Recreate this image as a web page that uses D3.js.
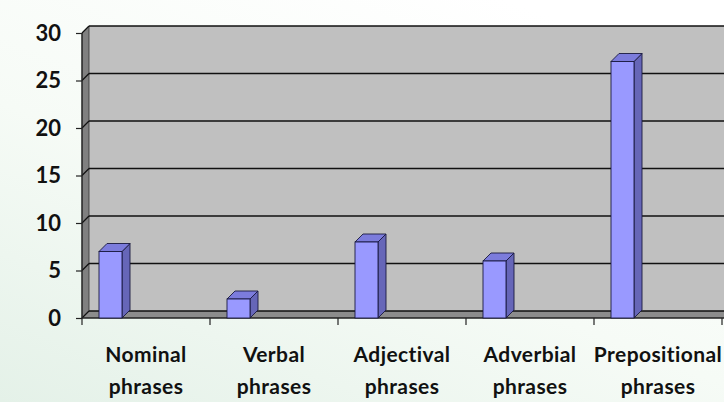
<!DOCTYPE html>
<html>
<head>
<meta charset="utf-8">
<script src="https://cdn.jsdelivr.net/npm/d3@7"></script>
<style>
  html, body { margin: 0; padding: 0; overflow: hidden; }
  svg { display: block; }
</style>
</head>
<body>
<div id="chart"></div>
<script>
const categories = ["Nominal phrases", "Verbal phrases", "Adjectival phrases", "Adverbial phrases", "Prepositional phrases"]
const values = [7, 2, 8, 6, 27]
const yTicks = [0, 5, 10, 15, 20, 25, 30]

const W = 724, H = 402
const DX = 7, DY = 7          // depth of the walls
const BDX = 8, BDY = 8        // depth of the bars
const FONT = "Lato, 'Open Sans', sans-serif"

const svg = d3.select("#chart").append("svg")
    .attr("width", W)
    .attr("height", H)

// soft background
const defs = svg.append("defs")
const grad = defs.append("linearGradient")
    .attr("id", "bg").attr("x1", 0).attr("y1", 1).attr("x2", 0.7).attr("y2", 0)
grad.append("stop").attr("offset", 0).attr("stop-color", "#e4f1e8")
grad.append("stop").attr("offset", 0.5).attr("stop-color", "#f6fbf6")
grad.append("stop").attr("offset", 1).attr("stop-color", "#ffffff")
svg.append("rect").attr("width", W).attr("height", H).attr("fill", "url(#bg)")

const x = d3.scaleBand().domain(categories).range([82, 722])
const y = d3.scaleLinear().domain([0, 30]).range([318, 33])

const x0 = x.range()[0], x1 = x.range()[1]
const yTop = y(30), yBot = y(0)

// back wall
svg.append("rect")
    .attr("x", x0 + DX).attr("y", yTop - DY)
    .attr("width", x1 + 20 - x0).attr("height", yBot - yTop)
    .attr("fill", "#c0c0c0")

// left wall
svg.append("polygon")
    .attr("points", [[x0, yTop], [x0 + DX, yTop - DY], [x0 + DX, yBot - DY], [x0, yBot]].join(" "))
    .attr("fill", "#808080")
    .attr("stroke", "#333").attr("stroke-width", 0.8)

// floor
svg.append("polygon")
    .attr("points", [[x0, yBot], [x0 + DX, yBot - DY], [x1 + 20, yBot - DY], [x1 + 20, yBot]].join(" "))
    .attr("fill", "#8c8c8c")

// gridlines on back wall and left wall
const grid = svg.append("g")
yTicks.forEach(t => {
    grid.append("line")
        .attr("x1", x0 + DX).attr("x2", x1 + 20)
        .attr("y1", y(t) - DY).attr("y2", y(t) - DY)
        .attr("stroke", "#111").attr("stroke-width", 1.5)
    grid.append("line")
        .attr("x1", x0).attr("x2", x0 + DX)
        .attr("y1", y(t)).attr("y2", y(t) - DY)
        .attr("stroke", "#111").attr("stroke-width", 1.2)
})

// front axis lines
svg.append("line")
    .attr("x1", x0).attr("x2", x0).attr("y1", yTop).attr("y2", yBot)
    .attr("stroke", "#222").attr("stroke-width", 1.2)
svg.append("line")
    .attr("x1", x0).attr("x2", x1 + 20).attr("y1", yBot).attr("y2", yBot)
    .attr("stroke", "#222").attr("stroke-width", 1.5)

// y axis
const yAxis = svg.append("g")
    .attr("transform", `translate(${x0},0)`)
    .call(d3.axisLeft(y).tickValues(yTicks).tickSize(6).tickPadding(15))
yAxis.select(".domain").remove()
yAxis.selectAll(".tick line").attr("stroke", "#222").attr("stroke-width", 1.2)
yAxis.selectAll(".tick text")
    .attr("font-family", FONT).attr("font-weight", "bold")
    .attr("font-size", 22).attr("fill", "#111")

// x ticks at category boundaries
const bounds = categories.map(c => x(c)).concat([x1])
svg.append("g").selectAll("line")
    .data(bounds)
    .join("line")
    .attr("x1", d => d).attr("x2", d => d)
    .attr("y1", yBot).attr("y2", yBot + 7)
    .attr("stroke", "#222").attr("stroke-width", 1.2)

// bars
const bars = svg.append("g").selectAll("g")
    .data(categories.map((c, i) => ({ c, v: values[i] })))
    .join("g")

const bx = d => x(d.c) + 17
const bw = 23

bars.append("polygon")   // side
    .attr("points", d => [[bx(d) + bw, y(d.v)], [bx(d) + bw + BDX, y(d.v) - BDY],
        [bx(d) + bw + BDX, yBot - BDY], [bx(d) + bw, yBot]].join(" "))
    .attr("fill", "#6666b8").attr("stroke", "#1a1a40").attr("stroke-width", 0.9)

bars.append("polygon")   // top
    .attr("points", d => [[bx(d), y(d.v)], [bx(d) + BDX, y(d.v) - BDY],
        [bx(d) + bw + BDX, y(d.v) - BDY], [bx(d) + bw, y(d.v)]].join(" "))
    .attr("fill", "#7c7cdc").attr("stroke", "#1a1a40").attr("stroke-width", 0.9)

bars.append("rect")      // front
    .attr("x", bx).attr("y", d => y(d.v))
    .attr("width", bw).attr("height", d => yBot - y(d.v))
    .attr("fill", "#9999ff").attr("stroke", "#1a1a40").attr("stroke-width", 0.9)

// category labels, two lines each
const labels = svg.append("g").selectAll("text")
    .data(categories)
    .join("text")
    .attr("text-anchor", "middle")
    .attr("font-family", FONT).attr("font-weight", "bold")
    .attr("font-size", 21).attr("letter-spacing", 0.4).attr("fill", "#111")
    .attr("x", d => x(d) + x.bandwidth() / 2)

labels.append("tspan")
    .attr("x", d => x(d) + x.bandwidth() / 2)
    .attr("y", 362)
    .text(d => d.split(" ")[0])
labels.append("tspan")
    .attr("x", d => x(d) + x.bandwidth() / 2)
    .attr("y", 394)
    .text(d => d.split(" ")[1])
</script>
</body>
</html>
